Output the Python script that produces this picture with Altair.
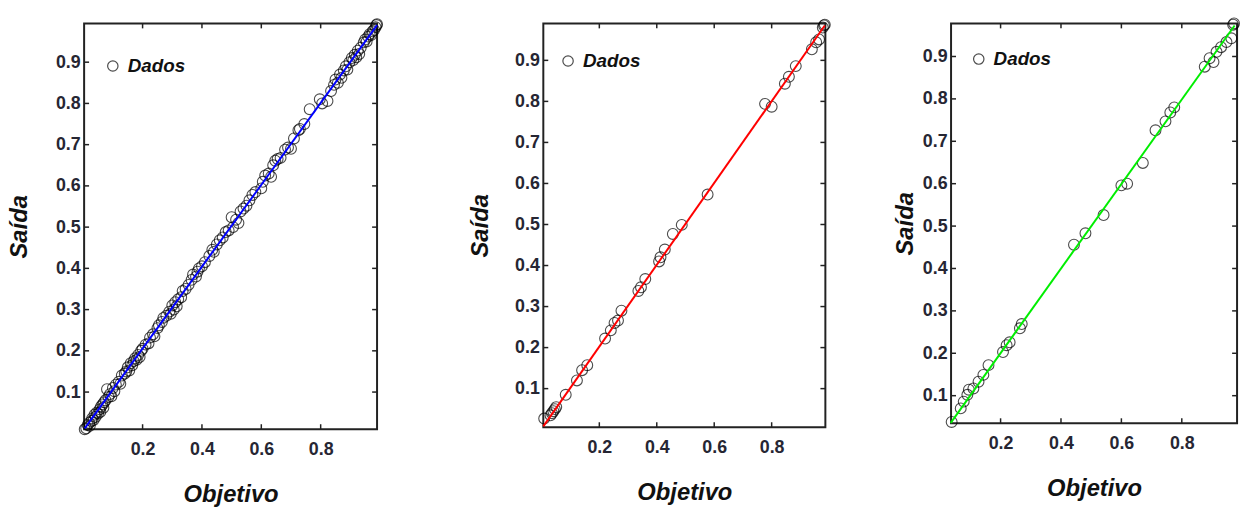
import altair as alt
import pandas as pd

# ---------------- data ----------------
XTICKS = [0.2, 0.4, 0.6, 0.8]
YTICKS = [0.1, 0.2, 0.3, 0.4, 0.5, 0.6, 0.7, 0.8, 0.9]
LEGEND_LABEL = "Dados"

# panel 1 (blue)
p1_x = [0.005, 0.010, 0.015, 0.020, 0.022, 0.028, 0.030, 0.035, 0.038, 0.042,
        0.045, 0.050, 0.055, 0.058, 0.060, 0.065, 0.068, 0.070, 0.075, 0.080,
        0.085, 0.090, 0.095, 0.100, 0.105, 0.110, 0.120, 0.125, 0.130, 0.140,
        0.145, 0.150, 0.155, 0.160, 0.165, 0.170, 0.175, 0.180, 0.185, 0.190,
        0.195, 0.200, 0.210, 0.220, 0.225, 0.235, 0.240, 0.250, 0.255, 0.265,
        0.270, 0.280, 0.290, 0.295, 0.300, 0.305, 0.310, 0.315, 0.320, 0.330,
        0.335, 0.345, 0.355, 0.365, 0.370, 0.380, 0.385, 0.390, 0.400, 0.410,
        0.425, 0.435, 0.440, 0.450, 0.460, 0.470, 0.480, 0.490, 0.500, 0.505,
        0.515, 0.523, 0.530, 0.540, 0.550, 0.560, 0.570, 0.580, 0.600, 0.605,
        0.613, 0.625, 0.633, 0.640, 0.647, 0.655, 0.665, 0.680, 0.690, 0.700,
        0.710, 0.725, 0.730, 0.745, 0.763, 0.797, 0.805, 0.823, 0.835, 0.845,
        0.850, 0.858, 0.865, 0.870, 0.878, 0.885, 0.890, 0.897, 0.905, 0.910,
        0.915, 0.920, 0.925, 0.930, 0.935, 0.945, 0.950, 0.955, 0.960, 0.965,
        0.970, 0.975, 0.980, 0.985, 0.988, 0.990]
p1_y = [0.010, 0.012, 0.020, 0.025, 0.018, 0.030, 0.036, 0.032, 0.045, 0.040,
        0.050, 0.048, 0.058, 0.052, 0.065, 0.070, 0.062, 0.075, 0.080, 0.107,
        0.088, 0.095, 0.090, 0.110, 0.102, 0.118, 0.125, 0.120, 0.140, 0.145,
        0.150, 0.160, 0.152, 0.170, 0.165, 0.175, 0.182, 0.178, 0.190, 0.185,
        0.200, 0.205, 0.215, 0.218, 0.232, 0.240, 0.235, 0.255, 0.262, 0.270,
        0.280, 0.285, 0.295, 0.290, 0.310, 0.300, 0.318, 0.308, 0.325, 0.330,
        0.345, 0.350, 0.360, 0.372, 0.385, 0.380, 0.392, 0.400, 0.405, 0.415,
        0.430, 0.445, 0.440, 0.458, 0.468, 0.475, 0.488, 0.492, 0.524, 0.500,
        0.518, 0.510, 0.538, 0.545, 0.552, 0.565, 0.578, 0.585, 0.594, 0.610,
        0.625, 0.630, 0.622, 0.650, 0.661, 0.665, 0.668, 0.688, 0.693, 0.690,
        0.715, 0.735, 0.738, 0.750, 0.786, 0.810, 0.800, 0.806, 0.830, 0.845,
        0.858, 0.850, 0.870, 0.862, 0.880, 0.890, 0.882, 0.900, 0.910, 0.905,
        0.918, 0.912, 0.928, 0.920, 0.935, 0.948, 0.955, 0.950, 0.962, 0.968,
        0.966, 0.975, 0.978, 0.985, 0.990, 0.992]
p1_fit_x = [0.005, 0.990]
p1_fit_y = [0.012, 0.990]

# panel 2 (red)
p2_x = [0.008, 0.030, 0.035, 0.040, 0.045, 0.050, 0.083, 0.122, 0.140, 0.158,
        0.220, 0.240, 0.253, 0.265, 0.277, 0.336, 0.345, 0.360, 0.408, 0.413,
        0.428, 0.456, 0.487, 0.577, 0.777, 0.800, 0.846, 0.860, 0.884, 0.940,
        0.955, 0.965, 0.978, 0.982, 0.985]
p2_y = [0.027, 0.035, 0.040, 0.045, 0.050, 0.055, 0.085, 0.120, 0.145, 0.157,
        0.222, 0.242, 0.260, 0.266, 0.290, 0.338, 0.347, 0.367, 0.410, 0.420,
        0.439, 0.477, 0.499, 0.573, 0.794, 0.787, 0.843, 0.860, 0.886, 0.927,
        0.944, 0.951, 0.980, 0.985, 0.987]
p2_fit_x = [0.005, 0.985]
p2_fit_y = [0.008, 0.985]

# panel 3 (green)
p3_x = [0.038, 0.068, 0.078, 0.090, 0.095, 0.110, 0.127, 0.143, 0.160, 0.208,
        0.220, 0.230, 0.264, 0.270, 0.443, 0.481, 0.541, 0.600, 0.619, 0.671,
        0.713, 0.746, 0.762, 0.775, 0.876, 0.892, 0.905, 0.915, 0.930, 0.948,
        0.964, 0.970, 0.973]
p3_y = [0.038, 0.070, 0.086, 0.102, 0.114, 0.117, 0.133, 0.149, 0.172, 0.203,
        0.219, 0.226, 0.259, 0.269, 0.456, 0.483, 0.526, 0.596, 0.600, 0.649,
        0.726, 0.747, 0.768, 0.780, 0.876, 0.896, 0.887, 0.911, 0.922, 0.934,
        0.943, 0.975, 0.978]
p3_fit_x = [0.035, 0.975]
p3_fit_y = [0.036, 0.973]

# ---------------- styling ----------------
TICK_FONT = "Liberation Sans"
TITLE_FONT = "Liberation Sans"
LABEL_COLOR = "#262633"
TICK_LEN = 5
XF = "Objetivo"
YF = "Saída"


def panel(xs, ys, fx, fy, color, xdom, ydom, w, h, leg, ytitle_pad):
    pts = pd.DataFrame({XF: xs, YF: ys})
    fit = pd.DataFrame({XF: fx, YF: fy})
    xt = pd.DataFrame({XF: XTICKS})
    yt = pd.DataFrame({YF: YTICKS})
    xsc = alt.Scale(domain=xdom, nice=False, zero=False)
    ysc = alt.Scale(domain=ydom, nice=False, zero=False)

    xaxis = alt.Axis(values=XTICKS, format=".1f", title="Objetivo",
                     grid=False, domain=False, ticks=False,
                     labelFont=TICK_FONT, labelFontSize=18, labelFontWeight="bold",
                     labelColor=LABEL_COLOR, labelPadding=12,
                     titleFont=TITLE_FONT, titleFontSize=24, titleFontWeight="bold",
                     titleFontStyle="italic", titleColor="#111111", titlePadding=24)
    yaxis = alt.Axis(values=YTICKS, format=".1f", title="Saída",
                     grid=False, domain=False, ticks=False,
                     labelFont=TICK_FONT, labelFontSize=18, labelFontWeight="bold",
                     labelColor=LABEL_COLOR, labelPadding=4,
                     titleFont=TITLE_FONT, titleFontSize=24, titleFontWeight="bold",
                     titleFontStyle="italic", titleColor="#111111",
                     titlePadding=ytitle_pad)

    X = alt.X(f"{XF}:Q", scale=xsc, axis=xaxis)
    Y = alt.Y(f"{YF}:Q", scale=ysc, axis=yaxis)

    points = alt.Chart(pts).mark_point(
        shape="circle", filled=False, color="black", size=120, strokeWidth=1.1
    ).encode(x=X, y=Y)
    line = alt.Chart(fit).mark_line(color=color, strokeWidth=2).encode(x=X, y=Y)
    tb = alt.Chart(xt).mark_rule(color="#222222", strokeWidth=1.5).encode(
        x=X, y=alt.value(h), y2=alt.value(h - TICK_LEN))
    tt = alt.Chart(xt).mark_rule(color="#222222", strokeWidth=1.5).encode(
        x=X, y=alt.value(0), y2=alt.value(TICK_LEN))
    tl = alt.Chart(yt).mark_rule(color="#222222", strokeWidth=1.5).encode(
        y=Y, x=alt.value(0), x2=alt.value(TICK_LEN))
    tr = alt.Chart(yt).mark_rule(color="#222222", strokeWidth=1.5).encode(
        y=Y, x=alt.value(w), x2=alt.value(w - TICK_LEN))

    lg = pd.DataFrame({"label": [LEGEND_LABEL]})
    leg_pt = alt.Chart(lg).mark_point(
        shape="circle", filled=False, color="black", size=110, strokeWidth=1.2
    ).encode(x=alt.value(leg[0]), y=alt.value(leg[1]))
    leg_tx = alt.Chart(lg).mark_text(
        align="left", baseline="middle", font=TITLE_FONT, fontSize=19,
        fontWeight="bold", fontStyle="italic", color="#111111"
    ).encode(x=alt.value(leg[0] + 15), y=alt.value(leg[1]), text="label:N")

    return alt.layer(points, line, tb, tt, tl, tr, leg_pt, leg_tx).properties(
        width=w, height=h)


c1 = panel(p1_x, p1_y, p1_fit_x, p1_fit_y, "#0000ff",
           [0.003, 0.99], [0.01, 0.994], 296, 410, (29, 43), 24)
c2 = panel(p2_x, p2_y, p2_fit_x, p2_fit_y, "#ff0000",
           [0.005, 0.987], [0.006, 0.99], 285, 408, (25, 38), 22)
c3 = panel(p3_x, p3_y, p3_fit_x, p3_fit_y, "#00ee00",
           [0.036, 0.983], [0.035, 0.978], 289, 404, (28, 36), 5)

chart = alt.hconcat(
    alt.hconcat(c1, c2, spacing=82),
    c3, spacing=58
).properties(
    padding={"left": 6, "top": 12, "right": 0, "bottom": 0}
).configure_view(
    stroke="#222222", strokeWidth=2
)

chart.save("out.html", embed_options={"renderer": "svg", "actions": False})
